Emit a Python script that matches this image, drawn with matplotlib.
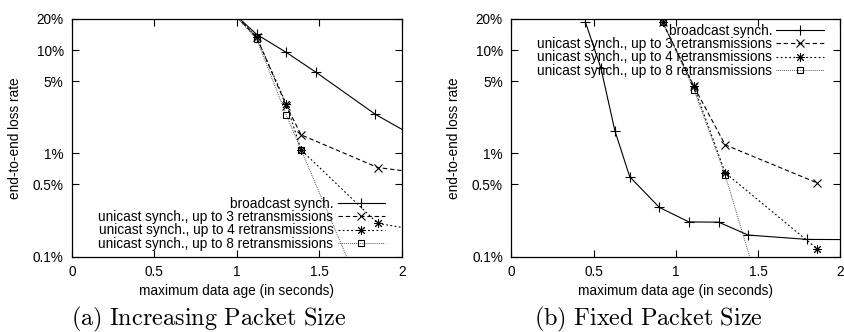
import matplotlib
matplotlib.use("Agg")
import matplotlib.pyplot as plt

plt.rcParams["font.family"] = ["Liberation Sans", "DejaVu Sans"]

# ---- data (loss rate in percent) ----
# (a) increasing packet size
a_bc_x = [0.94, 1.12, 1.30, 1.48, 1.84, 2.20]
a_bc_y = [26.0, 14.2, 9.5, 6.1, 2.39, 1.13]
a_u3_x = [0.94, 1.12, 1.30, 1.39, 1.855, 2.20]
a_u3_y = [26.3, 13.3, 2.9, 1.51, 0.73, 0.62]
a_u4_x = [0.94, 1.12, 1.30, 1.39, 1.855, 2.20]
a_u4_y = [26.3, 13.3, 3.0, 1.08, 0.21, 0.17]
a_u8_x = [0.94, 1.12, 1.30, 1.39, 1.855]
a_u8_y = [26.3, 12.8, 2.35, 1.08, 0.0195]

# (b) fixed packet size
b_bc_x = [0.45, 0.545, 0.63, 0.72, 0.90, 1.08, 1.26, 1.44, 1.80, 2.20]
b_bc_y = [18.8, 6.67, 1.65, 0.594, 0.30, 0.217, 0.216, 0.162, 0.147, 0.146]
b_u3_x = [0.92, 1.11, 1.30, 1.857]
b_u3_y = [18.6, 4.45, 1.21, 0.52]
b_u4_x = [0.92, 1.11, 1.30, 1.857]
b_u4_y = [18.6, 4.45, 0.65, 0.120]
b_u8_x = [0.92, 1.11, 1.30, 1.857]
b_u8_y = [18.6, 4.15, 0.62, 0.00067]

labels = ["broadcast synch.",
          "unicast synch., up to 3 retransmissions",
          "unicast synch., up to 4 retransmissions",
          "unicast synch., up to 8 retransmissions"]
yticks = [0.1, 0.5, 1, 5, 10, 20]
ytick_labels = ["0.1%", "0.5%", "1%", "5%", "10%", "20%"]
xticks = [0, 0.5, 1, 1.5, 2]
xtick_labels = ["0", "0.5", "1", "1.5", "2"]

FS = 9.8
LW = 0.8
ASTER = (8, 2, 0)

styles = [
    dict(color="black", lw=LW, ls="-", marker="+", ms=7, mew=0.8),
    dict(color="black", lw=LW, dashes=(4, 2.5), marker="x", ms=5.5, mew=0.8),
    dict(color="black", lw=LW, dashes=(1.6, 2.2), marker=ASTER, ms=6.2, mew=0.7),
    dict(color="#333333", lw=0.7, dashes=(0.8, 1.2), marker="s", ms=4.5,
         mew=0.8, mfc="none", mec="black"),
]

fig = plt.figure(figsize=(8.44, 3.32), dpi=100)
W, H = 844, 332
ax_a = fig.add_axes([72 / W, 1 - 256.7 / H, 329.7 / W, 237.7 / H])
ax_b = fig.add_axes([511.3 / W, 1 - 256.7 / H, 329.0 / W, 237.7 / H])


def draw(ax, series, leg_loc, leg_anchor):
    handles = []
    for (x, y), st, lab in zip(series, styles, labels):
        ln, = ax.plot(x, y, label=lab, **st)
        handles.append(ln)
    ax.set_yscale("log")
    ax.set_xlim(0, 2)
    ax.set_ylim(0.1, 20)
    ax.set_yticks(yticks)
    ax.set_yticklabels(ytick_labels)
    ax.minorticks_off()
    ax.set_xticks(xticks)
    ax.set_xticklabels(xtick_labels)
    ax.tick_params(direction="in", length=5, width=0.8, top=True, right=True,
                   labelsize=FS, pad=6)
    for sp in ax.spines.values():
        sp.set_linewidth(0.9)
    ax.set_xlabel("maximum data age (in seconds)", fontsize=FS)
    ax.set_ylabel("end-to-end loss rate", fontsize=FS)
    ax.xaxis.set_label_coords(0.5, -0.115)
    ax.yaxis.set_label_coords(-0.152, 0.5)
    ax.legend(handles=handles, loc=leg_loc, bbox_to_anchor=leg_anchor,
              frameon=False, markerfirst=False, fontsize=FS,
              handlelength=3.5, handletextpad=0.3, labelspacing=-0.05,
              borderpad=0, borderaxespad=0, numpoints=1)


draw(ax_a, [(a_bc_x, a_bc_y), (a_u3_x, a_u3_y), (a_u4_x, a_u4_y), (a_u8_x, a_u8_y)],
     "lower right", (0.95, 0.025))
draw(ax_b, [(b_bc_x, b_bc_y), (b_u3_x, b_u3_y), (b_u4_x, b_u4_y), (b_u8_x, b_u8_y)],
     "upper right", (0.95, 0.98))

fig.text(209 / W, 1 - 319 / H, r"$\mathrm{(a)\ Increasing\ Packet\ Size}$",
         ha="center", va="center", fontsize=17.5, math_fontfamily="cm")
fig.text(648 / W, 1 - 319 / H, r"$\mathrm{(b)\ Fixed\ Packet\ Size}$",
         ha="center", va="center", fontsize=17.5, math_fontfamily="cm")

fig.savefig("out.png", dpi=100)
